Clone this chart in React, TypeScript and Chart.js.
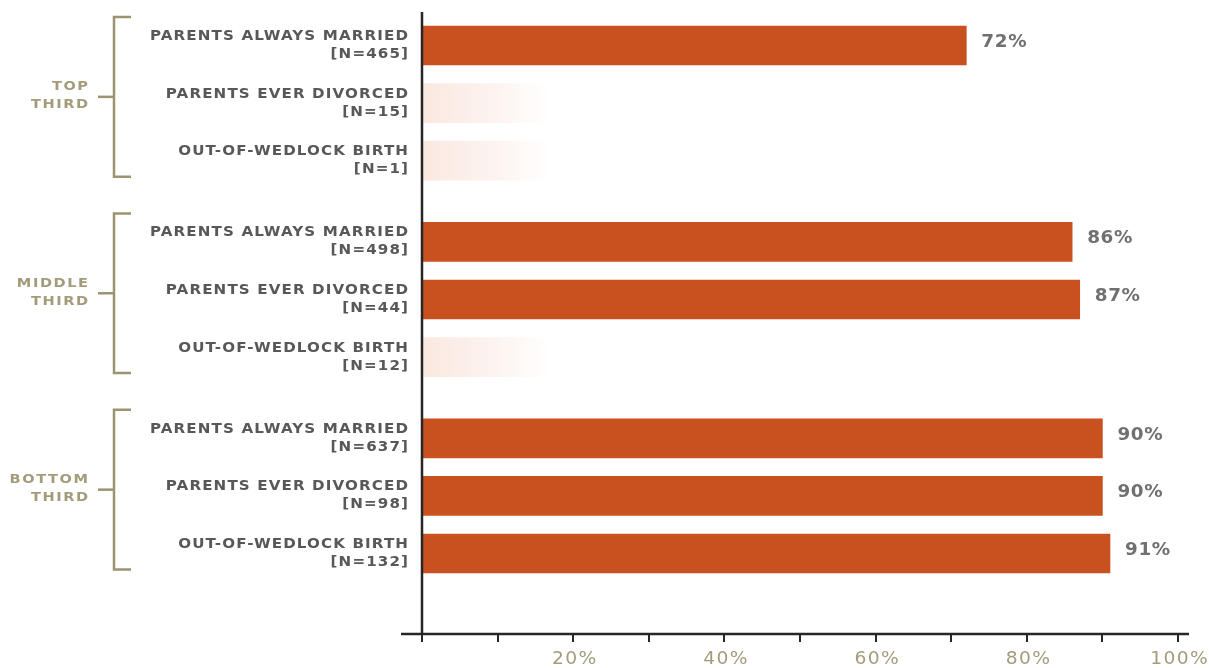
import React, { useEffect, useRef } from 'react';
import { Chart, registerables } from 'chart.js';

Chart.register(...registerables);

// ---------- data ----------
const groupLabels = [['TOP', 'THIRD'], ['MIDDLE', 'THIRD'], ['BOTTOM', 'THIRD']];
const rowLabels = ['PARENTS ALWAYS MARRIED', 'PARENTS EVER DIVORCED', 'OUT-OF-WEDLOCK BIRTH'];
const topN = [465, 15, 1];
const middleN = [498, 44, 12];
const bottomN = [637, 98, 132];
const topShare: (number | null)[] = [72, null, null];
const middleShare: (number | null)[] = [86, 87, null];
const bottomShare: (number | null)[] = [90, 90, 91];
const xTickValues = [0, 10, 20, 30, 40, 50, 60, 70, 80, 90, 100];
const xTickLabels = ['', '', '20%', '', '40%', '', '60%', '', '80%', '', '100%'];
const placeholderShare = 17; // faded stub shown where a sample is too small

// ---------- layout / style ----------
const W = 1209;
const H = 668;
const GROUP_GAP = 0.41;
const BAR_COLOR = '#c9511f';
const LABEL_COLOR = '#585858';
const VALUE_COLOR = '#707070';
const OLIVE = '#a29c7b';
const BRACKET = '#9b9470';
const AXIS = '#262626';
const FONT = '"DejaVu Sans", sans-serif';

const nByGroup = [topN, middleN, bottomN];
const shareByGroup = [topShare, middleShare, bottomShare];

type Row = { g: number; r: number; pos: number; label: string; n: number; share: number | null };
const rows: Row[] = [];
shareByGroup.forEach((shares, g) => {
  shares.forEach((s, r) => {
    rows.push({ g, r, pos: g * (rowLabels.length + GROUP_GAP) + r, label: rowLabels[r], n: nByGroup[g][r], share: s });
  });
});

function spacedText(
  ctx: CanvasRenderingContext2D,
  text: string,
  x: number,
  y: number,
  spacing: number,
  align: 'left' | 'right' | 'center',
  hScale = 1
) {
  ctx.save();
  (ctx as any).letterSpacing = spacing + 'px';
  const w = (ctx.measureText(text).width - spacing) * hScale;
  ctx.textAlign = 'left';
  const startX = align === 'right' ? x - w : align === 'center' ? x - w / 2 : x;
  ctx.translate(startX, y);
  ctx.scale(hScale, 1);
  ctx.fillText(text, 0, 0);
  ctx.restore();
}

const decorPlugin = {
  id: 'decor',
  afterDraw(chart: any) {
    const ctx: CanvasRenderingContext2D = chart.ctx;
    const { left, right, top, bottom } = chart.chartArea;
    const xs = chart.scales.x;
    const ys = chart.scales.y;
    ctx.save();

    // axes
    ctx.strokeStyle = AXIS;
    ctx.lineWidth = 2.5;
    ctx.beginPath();
    ctx.moveTo(left, top);
    ctx.lineTo(left, bottom);
    ctx.stroke();
    ctx.beginPath();
    ctx.moveTo(left - 21, bottom);
    ctx.lineTo(right + 11, bottom);
    ctx.stroke();

    // x tick labels
    ctx.fillStyle = OLIVE;
    ctx.font = `17px ${FONT}`;
    ctx.textBaseline = 'middle';
    xTickValues.forEach((v, i) => {
      if (!xTickLabels[i]) return;
      spacedText(ctx, xTickLabels[i], xs.getPixelForValue(v) + 1, 660, 1.2, 'center', 1.1);
    });

    // row labels
    ctx.fillStyle = LABEL_COLOR;
    ctx.textBaseline = 'middle';
    ctx.font = `bold 13.5px ${FONT}`;
    rows.forEach((row) => {
      const cy = ys.getPixelForValue(row.pos);
      spacedText(ctx, row.label, 408, cy - 9, 1.0, 'right', 1.12);
      spacedText(ctx, `[N=${row.n}]`, 408, cy + 9, 1.0, 'right', 1.12);
    });

    // value labels
    ctx.fillStyle = VALUE_COLOR;
    ctx.font = `bold 17px ${FONT}`;
    rows.forEach((row) => {
      if (row.share == null) return;
      const cy = ys.getPixelForValue(row.pos);
      const x = xs.getPixelForValue(row.share);
      spacedText(ctx, `${row.share}%`, x + 15, cy - 3, 0.6, 'left', 1.08);
    });

    // group brackets and labels
    groupLabels.forEach((lines, g) => {
      const gr = rows.filter((r) => r.g === g);
      const first = ys.getPixelForValue(gr[0].pos);
      const last = ys.getPixelForValue(gr[gr.length - 1].pos);
      const bt = first - 28.5;
      const bb = last + 16;
      const mid = (bt + bb) / 2;
      ctx.strokeStyle = BRACKET;
      ctx.lineWidth = 2.5;
      ctx.beginPath();
      ctx.moveTo(131, bt);
      ctx.lineTo(114, bt);
      ctx.lineTo(114, bb);
      ctx.lineTo(131, bb);
      ctx.stroke();
      ctx.beginPath();
      ctx.moveTo(98, mid);
      ctx.lineTo(114, mid);
      ctx.stroke();
      ctx.fillStyle = OLIVE;
      ctx.font = `bold 13px ${FONT}`;
      ctx.textBaseline = 'middle';
      spacedText(ctx, lines[0], 88, mid - 10, 1.4, 'right', 1.12);
      spacedText(ctx, lines[1], 88, mid + 8, 1.4, 'right', 1.12);
    });
    ctx.restore();
  },
};

export default function App() {
  const ref = useRef<HTMLCanvasElement | null>(null);
  useEffect(() => {
    if (!ref.current) return;
    const unit = 57.6;
    const lastPos = rows[rows.length - 1].pos;
    const chart = new Chart(ref.current, {
      type: 'bar',
      data: {
        datasets: [
          {
            label: 'Share',
            data: rows.filter((r) => r.share != null).map((r) => ({ x: r.share as number, y: r.pos })),
            backgroundColor: BAR_COLOR,
            barThickness: 39,
            grouped: false,
          } as any,
          {
            label: 'Too few cases',
            data: rows.filter((r) => r.share == null).map((r) => ({ x: placeholderShare, y: r.pos })),
            backgroundColor: (c: any) => {
              const ch = c.chart;
              const ca = ch.chartArea;
              if (!ca) return 'rgba(201,81,31,0.12)';
              const x0 = ch.scales.x.getPixelForValue(0);
              const x1 = ch.scales.x.getPixelForValue(placeholderShare);
              const grad = ch.ctx.createLinearGradient(x0, 0, x1, 0);
              grad.addColorStop(0, 'rgba(230,140,100,0.2)');
              grad.addColorStop(0.55, 'rgba(230,140,100,0.1)');
              grad.addColorStop(1, 'rgba(230,140,100,0)');
              return grad;
            },
            barThickness: 39,
            grouped: false,
          } as any,
        ],
      },
      options: {
        indexAxis: 'y',
        responsive: false,
        animation: false,
        layout: { padding: { left: 422, right: 31, top: 12, bottom: 0 } },
        plugins: { legend: { display: false }, tooltip: { enabled: false } },
        scales: {
          y: {
            type: 'linear',
            reverse: true,
            display: false,
            offset: false,
            grace: 0,
            min: -(45.5 - 12) / unit,
            max: lastPos + (634 - 553.5) / unit,
          },
          x: {
            type: 'linear',
            min: 0,
            max: 100,
            afterBuildTicks: (s: any) => {
              s.ticks = xTickValues.map((v) => ({ value: v }));
            },
            afterFit: (s: any) => {
              s.height = 34;
            },
            border: { display: false },
            grid: { drawOnChartArea: false, drawTicks: true, tickLength: 8, color: AXIS, lineWidth: 2 },
            ticks: {
              autoSkip: false,
              maxRotation: 0,
              padding: 8,
              color: 'rgba(0,0,0,0)',
              font: { family: FONT, size: 16 },
              callback: () => '',
            },
          },
        },
      } as any,
      plugins: [decorPlugin],
    });
    return () => chart.destroy();
  }, []);
  return (
    <div style={{ position: 'fixed', left: 0, top: 0, width: W, height: H, background: '#fff' }}>
      <canvas ref={ref} width={W} height={H} style={{ display: 'block' }} />
    </div>
  );
}
